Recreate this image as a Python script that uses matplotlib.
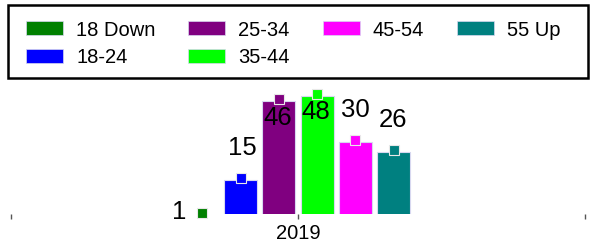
import matplotlib
matplotlib.use("Agg")
import matplotlib.pyplot as plt
import matplotlib.transforms as mtransforms
from matplotlib.patches import Rectangle, Patch

plt.rcParams['font.family'] = ['Liberation Sans', 'DejaVu Sans']

categories = ["2019"]
series = ["18 Down", "18-24", "25-34", "35-44", "45-54", "55 Up"]
values = [1, 15, 46, 48, 30, 26]
colors = ["#008000", "#0000ff", "#800080", "#00ff00", "#ff00ff", "#008080"]

# label offsets in pixels (dx, dy up) relative to bar top (style only)
label_offsets = [(-23.5, 3), (1.5, 32), (-1, -17), (-1, -16), (0, 32), (-1, 32)]

W, H = 592, 252
dpi = 100
px2pt = 72 / dpi
fig = plt.figure(figsize=(W / dpi, H / dpi), dpi=dpi)

ax_left, ax_right = 11, 585
ax_bottom, ax_top = 214, 85
scale = 2.54
ymin = 1.5
ax = fig.add_axes([ax_left / W, 1 - ax_bottom / H, (ax_right - ax_left) / W, (ax_bottom - ax_top) / H])
ax.set_xlim(-0.5, 0.5)
ax.set_ylim(ymin, ymin + (ax_bottom - ax_top) / scale)

axw = ax_right - ax_left
pitch = 38.3 / axw
bw = 33 / axw
n = len(series)
mk_shift = mtransforms.ScaledTranslation(0, 2 / dpi, fig.dpi_scale_trans)
for i, (s, v, c) in enumerate(zip(series, values, colors)):
    x = (i - (n - 1) / 2) * pitch
    ax.bar(x, v, width=bw, color=c, edgecolor="#d8d8f0", linewidth=0.8, zorder=2)
    ax.plot([x], [v], marker="s", markersize=10 * px2pt, color=c, markeredgecolor="#e8e8e8",
            markeredgewidth=0.8, zorder=3, clip_on=False,
            transform=ax.transData + mk_shift)
    dx, dy = label_offsets[i]
    ax.annotate(str(v), (x, v), xytext=(dx * px2pt, dy * px2pt), textcoords="offset points",
                ha="center", va="center", fontsize=18.5, color="black", zorder=4,
                annotation_clip=False)

for sp in ax.spines.values():
    sp.set_visible(False)
ax.set_yticks([])
ax.set_xticks([-0.5, 0, 0.5])
ax.set_xticklabels(["", categories[0], ""], fontsize=14.5)
ax.tick_params(axis="x", length=3.5, width=1, color="#555555", pad=4)
ax.patch.set_alpha(0)

# legend frame
fig.patches.append(Rectangle((7.5 / W, 1 - 78 / H), (588 - 7.5) / W, (78 - 5) / H,
                             transform=fig.transFigure, fill=False, edgecolor="black",
                             linewidth=1.8, zorder=5))
handles = [Patch(facecolor=c, edgecolor="#d8d8f0", linewidth=0.5) for c in colors]
fs = 14.5
fpx = fs / px2pt
fig.legend(handles, series, loc="upper left", bbox_to_anchor=(26 / W, 1 - 20.5 / H),
           ncol=4, frameon=False, fontsize=fs, borderpad=0, borderaxespad=0,
           handlelength=37 / fpx, handleheight=14 / fpx, handletextpad=13 / fpx,
           columnspacing=33 / fpx, labelspacing=0.43)

fig.savefig("out.png", dpi=dpi)
